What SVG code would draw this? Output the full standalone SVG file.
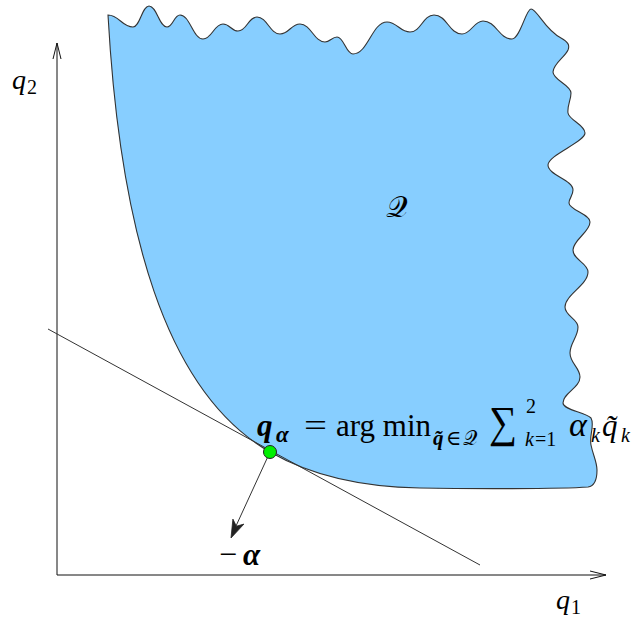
<svg xmlns="http://www.w3.org/2000/svg" width="632" height="619" viewBox="0 0 632 619">
<defs>
<style>
.region{fill:#87CEFF;stroke:#333;stroke-width:1.1}
.axis{fill:none;stroke:#111;stroke-width:1}
.line{fill:none;stroke:#333;stroke-width:1}
.m{font-family:"Liberation Serif","DejaVu Serif",serif;fill:#000}
.it{font-style:italic}
.bi{font-style:italic;font-weight:bold}
</style>
</defs>
<rect width="632" height="619" fill="#fff"/>
<g id="region-Q">
<path class="region" d="M108,15 C119,15 122,27 133,27 C140,27 142,6 149,6 C157,6 159,27 167,27 C173,27 174,15 180,15 C190,15 193,39 203,39 C212,39 214,24 223,24 C230,24 231,31 238,31 C247,31 248,17 257,17 C267,17 270,34 280,34 C289,34 291,24 300,24 C311,24 314,42 325,42 C330,42 332,37 337,37 C344,37 346,54 353,54 C368,54 372,22 387,22 C397,22 400,32 410,32 C421,32 423,15 434,15 C447,15 449,34 462,34 C471,34 474,21 483,21 C496,21 499,39 512,39 C520,39 526,9 531,9 C537,9 545,30 561,38 C568,42 570,45 568,50 C565,57 553,64 553,72 C553,80 571,85 571,93 C571,100 567,106 568,113 C569,120 585,125 585,133 C585,142 548,155 548,165 C548,175 573,180 573,190 C573,196 569,198 569,203 C569,210 590,214 590,222 C590,232 573,240 573,250 C573,260 588,263 588,272 C588,285 565,295 565,307 C565,316 578,319 578,327 C578,337 570,343 570,353 C570,363 580,368 580,377 C580,388 563,393 563,403 C563,410 585,412 591,418 C595,425 589,435 591,445 C593,455 597,462 597,470 C597,480 595,486 588,487 C560,489 470,489 420,488 C360,487 310,475 270,452 C165,392 120,230 108,15 Z"/>
<text class="m" x="386" y="217" font-size="30">𝒬</text>
</g>
<g id="axes">
<path class="axis" d="M57,575 L57,43 M53,59 L57,43 L61,59"/>
<path class="axis" d="M57,575 L606,575 M590,571 L606,575 L590,579"/>
<text class="m it" x="12" y="89" font-size="28">q</text>
<text class="m" x="27" y="94" font-size="20">2</text>
<text class="m it" x="556" y="609" font-size="28">q</text>
<text class="m" x="571" y="614" font-size="20">1</text>
</g>
<g id="connectors">
<path class="line" d="M48,329 L480,565"/>
<path class="line" d="M270,452 L236,526"/>
<polygon points="231,538 232.9,519.1 236.4,526.2 243.9,524.1" fill="#222" stroke="#222" stroke-width="0.8" stroke-linejoin="miter"/>
</g>
<g id="point-q-alpha">
<circle cx="270" cy="452" r="6.5" fill="#00F000" stroke="#222" stroke-width="1"/>
</g>
<g id="label-formula">
<text class="m bi" x="257" y="436" font-size="31">q</text>
<text class="m bi" x="276" y="442" font-size="23">α</text>
<text class="m" x="304" y="436" font-size="31" textLength="23" lengthAdjust="spacingAndGlyphs">=</text>
<text class="m" x="336" y="436" font-size="31">arg min</text>
<text class="m bi" x="433" y="445" font-size="21">q̃</text>
<text class="m" x="446" y="445" font-size="21">∈</text>
<text class="m" x="463" y="445" font-size="20">𝒬</text>
<text class="m" x="489" y="437" font-size="44" textLength="28" lengthAdjust="spacingAndGlyphs">∑</text>
<text class="m" x="526" y="413" font-size="20">2</text>
<text class="m it" x="525" y="446" font-size="20">k</text>
<text class="m" x="535" y="446" font-size="20">=1</text>
<text class="m it" x="569" y="436" font-size="34">α</text>
<text class="m it" x="591" y="442" font-size="20">k</text>
<text class="m it" x="602" y="436" font-size="31">q̃</text>
<text class="m it" x="621" y="442" font-size="20">k</text>
</g>
<g id="label-neg-alpha">
<text class="m" x="219" y="565" font-size="32">−</text>
<text class="m bi" x="243" y="565" font-size="31">α</text>
</g>
</svg>
